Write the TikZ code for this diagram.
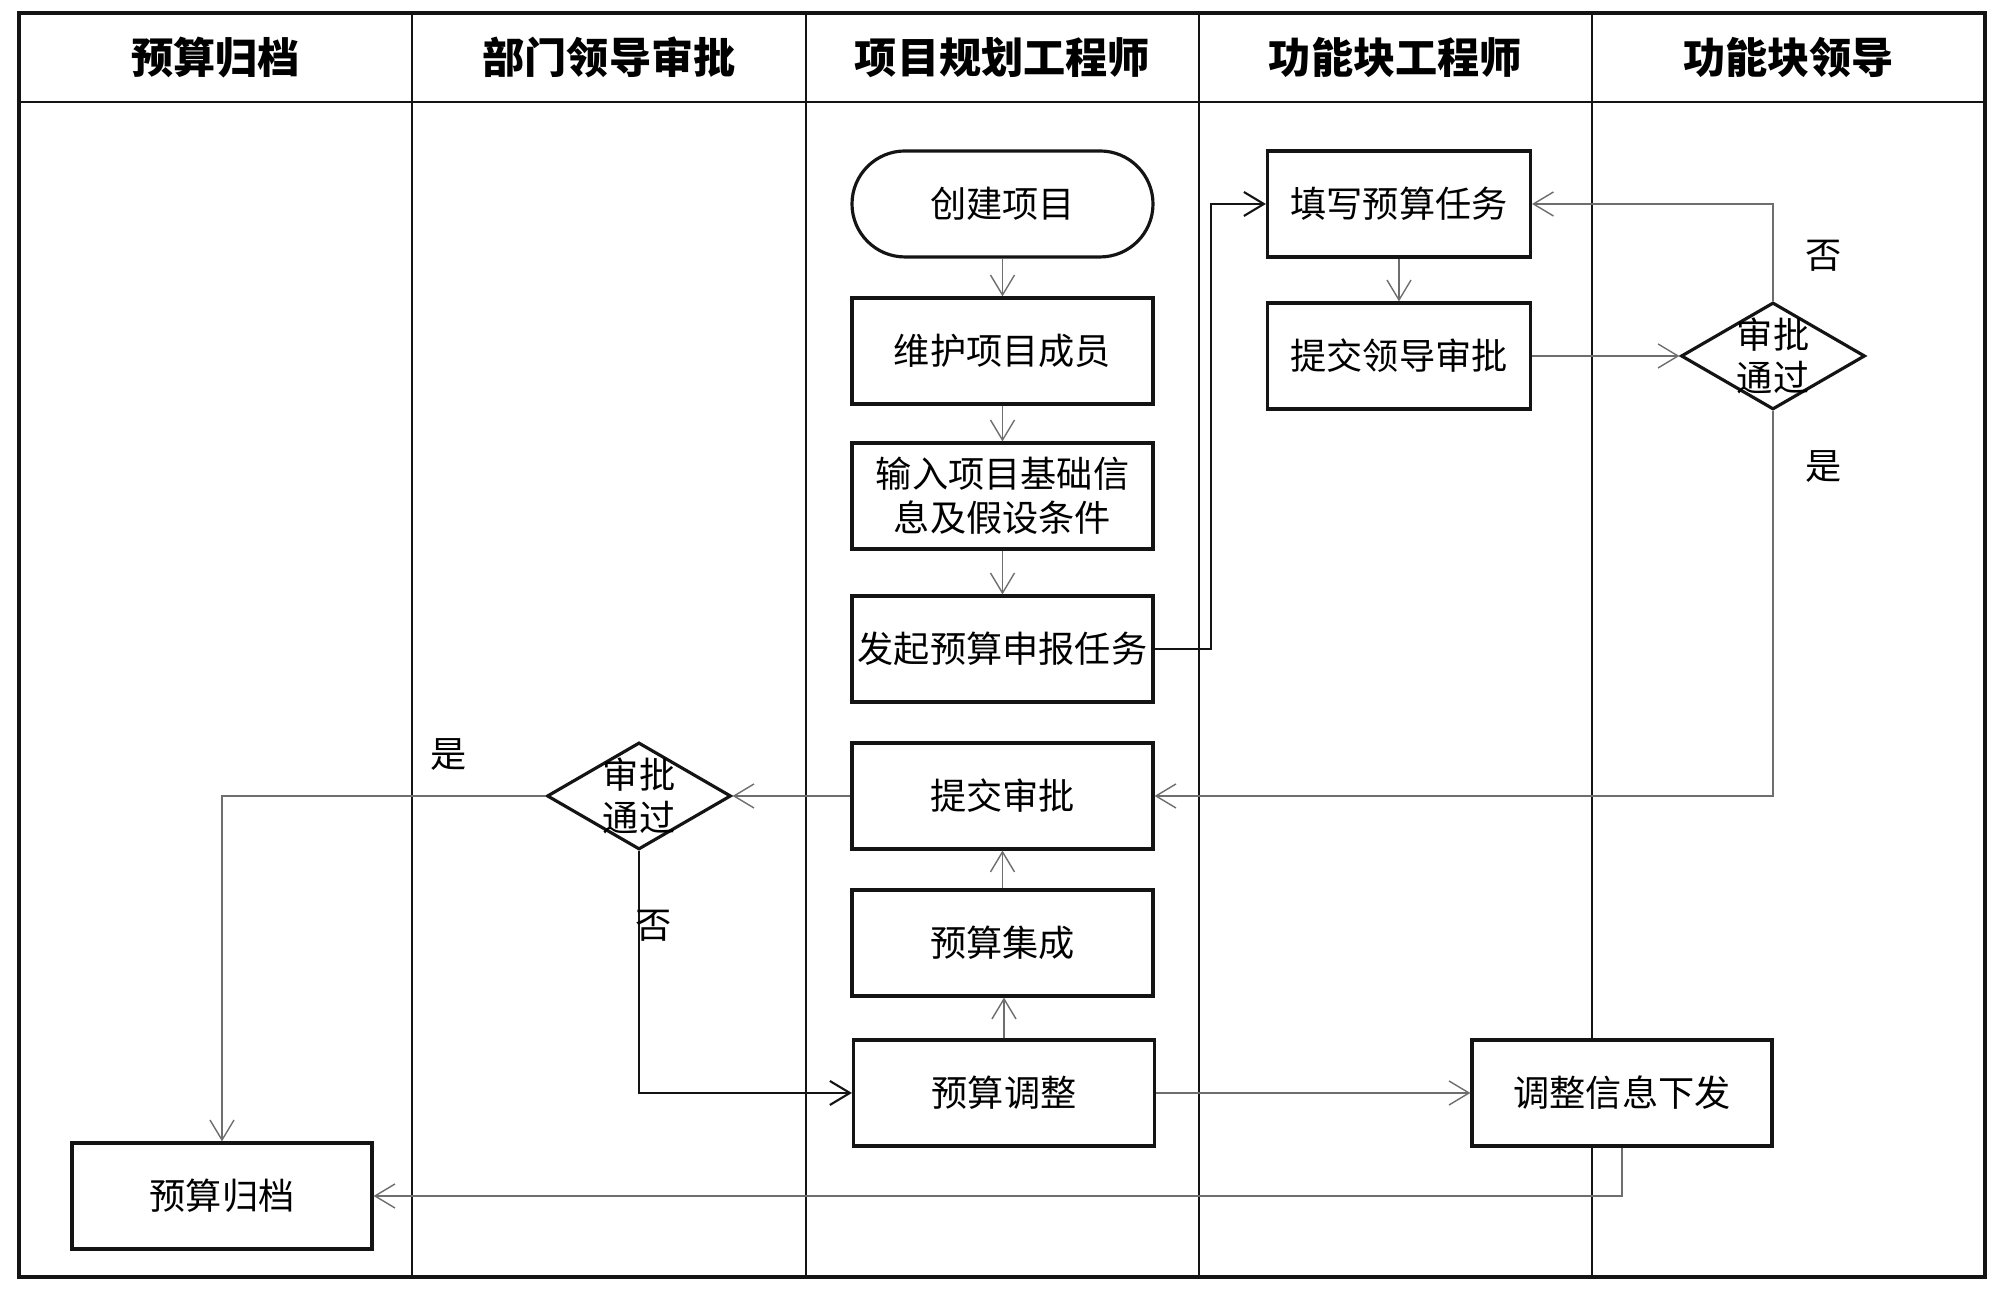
\documentclass[tikz,border=0pt]{standalone}
\usepackage{fontspec}
\setmainfont{Noto Sans CJK SC}
\usepackage{tikz}
\usetikzlibrary{shapes.geometric, arrows.meta, positioning, calc}
\definecolor{mydark}{RGB}{20,20,20}
\definecolor{mygray}{RGB}{110,110,110}
\tikzset{
  lane/.style={draw=mydark, line width=0.7pt},
  hdr/.style={font=\fontsize{12}{14}\selectfont\bfseries},
  block/.style={rectangle, draw=mydark, fill=white,
    minimum width=3.01cm, minimum height=1.06cm,
    font=\fontsize{10.3}{12.4}\selectfont, align=center,
    inner sep=1pt, line width=0.9pt},
  startblock/.style={block, rounded corners=0.53cm},
  decision/.style={diamond, draw=mydark, fill=white,
    minimum width=1.84cm, minimum height=1.07cm,
    inner sep=0pt, line width=0.9pt},
  dtext/.style={font=\fontsize{10.3}{12.4}\selectfont, align=center},
  lbl/.style={font=\fontsize{10.3}{12.4}\selectfont},
  arrow/.style={-{Straight Barb[length=2mm, width=2.4mm]}, line width=0.4pt, color=mygray},
  darkarrow/.style={-{Straight Barb[length=2mm, width=2.4mm]}, line width=0.6pt, color=mydark}
}

\begin{document}
\begin{tikzpicture}
  \useasboundingbox (0,0) rectangle (20,13.09);

  % Swimlanes
  \draw[lane, line width=0.9pt] (0.19,0.32) rectangle (19.85,12.96);
  \draw[lane] (0.19,12.07) -- (19.85,12.07);
  \foreach \x in {4.12, 8.06, 11.99, 15.92}
    \draw[lane] (\x,0.32) -- (\x,12.96);

  % Lane headers
  \node[hdr] (h1) at (2.155,12.515) {预算归档};
  \node[hdr] (h2) at (6.09,12.515) {部门领导审批};
  \node[hdr] (h3) at (10.025,12.515) {项目规划工程师};
  \node[hdr] (h4) at (13.955,12.515) {功能块工程师};
  \node[hdr] (h5) at (17.885,12.515) {功能块领导};

  % Project planning engineer
  \node[startblock] (create) at (10.025,11.05) {创建项目};
  \node[block] (member) at (10.025,9.58) {维护项目成员};
  \node[block] (input) at (10.025,8.13) {输入项目基础信\\息及假设条件};
  \node[block] (launch) at (10.025,6.60) {发起预算申报任务};
  \node[block] (submit) at (10.025,5.13) {提交审批};
  \node[block] (integ) at (10.025,3.66) {预算集成};
  \node[block] (adjust) at (10.04,2.16) {预算调整};

  % Function block engineer / leader
  \node[block, minimum width=2.63cm] (fill) at (13.99,11.05) {填写预算任务};
  \node[block, minimum width=2.63cm] (lead) at (13.99,9.53) {提交领导审批};
  \node[decision] (dec1) at (17.73,9.53) {};
  \node[dtext] (dec1t) at (dec1) {审批\\通过};
  \node[block, minimum width=3.0cm] (issue) at (16.22,2.16) {调整信息下发};

  % Department leader / archive
  \node[decision] (dec2) at (6.39,5.13) {};
  \node[dtext] (dec2t) at (dec2) {审批\\通过};
  \node[block, minimum width=3.0cm] (archive) at (2.22,1.13) {预算归档};

  % Flow
  \draw[arrow] (create) -- (member);
  \draw[arrow] (member) -- (input);
  \draw[arrow] (input) -- (launch);
  \draw[darkarrow] (launch.east) -- ++(0.56,0) |- (fill.west);
  \draw[arrow] (fill) -- (lead);
  \draw[arrow] (lead) -- (dec1);
  \draw[arrow] (dec1.north) |- (fill.east);
  \draw[arrow] (dec1.south) |- (submit.east);
  \draw[arrow] (submit) -- (dec2);
  \draw[arrow] (dec2.west) -| (archive.north);
  \draw[darkarrow] (dec2.south) |- (adjust.west);
  \draw[arrow] (integ) -- (submit);
  \draw[arrow] (adjust.north) -- (adjust.north |- integ.south);
  \draw[arrow] (adjust) -- (issue);
  \draw[arrow] (issue.south) |- (archive.east);

  % Branch labels
  \node[lbl] (no1) at (18.24,10.53) {否};
  \node[lbl] (yes1) at (18.24,8.42) {是};
  \node[lbl] (yes2) at (4.49,5.54) {是};
  \node[lbl] (no2) at (6.54,3.83) {否};
\end{tikzpicture}
\end{document}
